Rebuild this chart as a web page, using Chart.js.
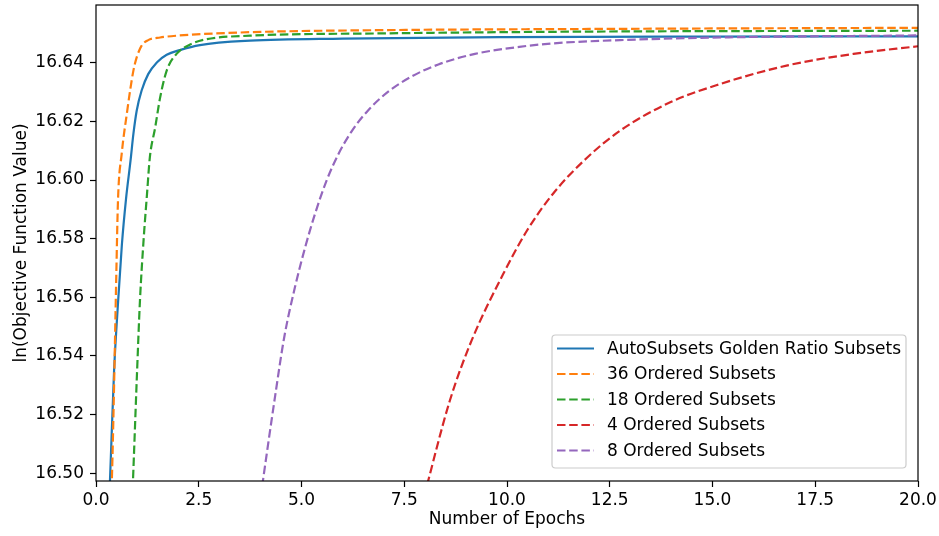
<!DOCTYPE html>
<html>
<head>
<meta charset="utf-8">
<script src="https://cdn.jsdelivr.net/npm/chart.js@4.4.0/dist/chart.umd.min.js"></script>
<style>
  html, body { margin: 0; padding: 0; background: #fff; }
  #chart { display: block; }
</style>
</head>
<body>
<canvas id="chart" width="939" height="536"></canvas>
<script>
// values
const seriesLabels = [
    'AutoSubsets Golden Ratio Subsets',
    '36 Ordered Subsets',
    '18 Ordered Subsets',
    '4 Ordered Subsets',
    '8 Ordered Subsets'
];

const autoX = [0.32, 0.36, 0.44, 0.54, 0.63, 0.73, 0.84, 0.91, 0.99, 1.11, 1.27, 1.48, 1.72, 2.04, 2.53, 3.75, 6, 10, 15, 20];
const autoY = [16.490, 16.505, 16.535, 16.559, 16.578, 16.5935, 16.6066, 16.6157, 16.6236, 16.6305, 16.6361, 16.6401, 16.6427, 16.6443, 16.6460, 16.6475, 16.6482, 16.6487, 16.6489, 16.6490];

const os36X = [0.37, 0.40, 0.44, 0.49, 0.535, 0.625, 0.76, 0.83, 0.91, 0.99, 1.11, 1.27, 1.56, 1.96, 3.75, 7, 12, 20];
const os36Y = [16.490, 16.505, 16.530, 16.565, 16.593, 16.6089, 16.6236, 16.6305, 16.6373, 16.6418, 16.6458, 16.6477, 16.6486, 16.6492, 16.6504, 16.6511, 16.6515, 16.6519];

const os18X = [0.88, 0.92, 1.0, 1.07, 1.16, 1.24, 1.31, 1.44, 1.56, 1.72, 1.96, 2.29, 2.69, 3.75, 7, 12, 20];
const os18Y = [16.490, 16.505, 16.535, 16.559, 16.580, 16.595, 16.6077, 16.6179, 16.6281, 16.6373, 16.6430, 16.6462, 16.6480, 16.6492, 16.6500, 16.6506, 16.6509];

const os4X = [7.98, 8.61, 9.14, 9.91, 10.48, 11.13, 11.94, 12.75, 13.97, 15.18, 16.8, 18.43, 20];
const os4Y = [16.492, 16.5248, 16.5453, 16.5680, 16.5826, 16.5955, 16.6075, 16.6168, 16.6265, 16.6327, 16.6390, 16.6430, 16.6456];

const os8X = [4.0, 4.36, 4.58, 4.84, 5.09, 5.33, 5.61, 5.90, 6.22, 6.63, 7.11, 7.68, 8.33, 9.22, 10.3, 11.13, 12.75, 15.2, 20];
const os8Y = [16.4915, 16.5265, 16.5464, 16.5634, 16.5771, 16.5885, 16.5998, 16.6089, 16.6166, 16.6239, 16.6301, 16.6353, 16.6394, 16.6430, 16.6454, 16.6466, 16.6477, 16.6486, 16.6493];

const xTicks = [0, 2.5, 5, 7.5, 10, 12.5, 15, 17.5, 20];
const yTicks = [16.50, 16.52, 16.54, 16.56, 16.58, 16.60, 16.62, 16.64];

const FONT = "'DejaVu Sans', sans-serif";

function pairs(xs, ys) {
    return xs.map((x, i) => ({ x: x, y: ys[i] }));
}

function series(i, xs, ys, color, dashed) {
    return {
        label: seriesLabels[i],
        data: pairs(xs, ys),
        borderColor: color,
        backgroundColor: color,
        borderWidth: 2.2,
        borderDash: dashed ? [8.5, 3.7] : [],
        pointRadius: 0,
        cubicInterpolationMode: 'monotone',
        clip: 0,
        order: 5 - i
    };
}

// axes box on top of the lines, like matplotlib spines
const framePlugin = {
    id: 'frame',
    afterDatasetsDraw(chart) {
        const a = chart.chartArea;
        const ctx = chart.ctx;
        ctx.save();
        ctx.strokeStyle = '#000';
        ctx.lineWidth = 1.2;
        ctx.strokeRect(a.left, a.top, a.right - a.left, a.bottom - a.top);
        ctx.restore();
    }
};

// legend drawn inside the plot, lower right
const insideLegend = {
    id: 'insideLegend',
    afterDraw(chart) {
        const a = chart.chartArea;
        const ctx = chart.ctx;
        const w = 354, h = 133;
        const left = a.right - 12 - w;
        const top = a.bottom - 13 - h;
        ctx.save();
        ctx.beginPath();
        ctx.roundRect(left, top, w, h, 3.5);
        ctx.fillStyle = 'rgba(255,255,255,0.8)';
        ctx.fill();
        ctx.strokeStyle = '#cccccc';
        ctx.lineWidth = 1.2;
        ctx.stroke();

        ctx.font = '17px ' + FONT;
        ctx.textBaseline = 'middle';
        chart.data.datasets.forEach((ds, i) => {
            const y = top + 13.5 + i * 25.5;
            ctx.beginPath();
            ctx.setLineDash(ds.borderDash);
            ctx.strokeStyle = ds.borderColor;
            ctx.lineWidth = ds.borderWidth;
            ctx.moveTo(left + 5, y);
            ctx.lineTo(left + 42, y);
            ctx.stroke();
            ctx.setLineDash([]);
            ctx.fillStyle = '#000';
            ctx.fillText(ds.label, left + 55, y + 1);
        });
        ctx.restore();
    }
};

function noEdgePadding(s) {
    s.paddingTop = 0;
    s.paddingBottom = 0;
    s.paddingLeft = 0;
    s.paddingRight = 0;
}

new Chart(document.getElementById('chart').getContext('2d'), {
    type: 'line',
    data: {
        datasets: [
            series(0, autoX, autoY, '#1f77b4', false),
            series(1, os36X, os36Y, '#ff7f0e', true),
            series(2, os18X, os18Y, '#2ca02c', true),
            series(3, os4X, os4Y, '#d62728', true),
            series(4, os8X, os8Y, '#9467bd', true)
        ]
    },
    options: {
        responsive: false,
        animation: false,
        layout: { padding: { left: 0, top: 5, right: 21, bottom: 0 } },
        plugins: {
            legend: { display: false },
            tooltip: { enabled: false }
        },
        scales: {
            x: {
                type: 'linear',
                min: 0,
                max: 20,
                afterFit: s => { s.height = 55; noEdgePadding(s); },
                afterBuildTicks: s => { s.ticks = xTicks.map(v => ({ value: v })); },
                border: { display: false },
                grid: { drawOnChartArea: false, drawTicks: true, tickLength: 6, tickWidth: 1.2, color: '#000' },
                ticks: {
                    padding: 3,
                    color: '#000',
                    maxRotation: 0,
                    autoSkip: false,
                    font: { family: FONT, size: 17 },
                    callback: v => Number(v).toFixed(1)
                },
                title: {
                    display: true,
                    text: 'Number of Epochs',
                    color: '#000',
                    font: { family: FONT, size: 17 },
                    padding: { top: 0, bottom: 6 }
                }
            },
            y: {
                type: 'linear',
                min: 16.49737,
                max: 16.65967,
                afterFit: s => { s.width = 96; noEdgePadding(s); },
                afterBuildTicks: s => { s.ticks = yTicks.map(v => ({ value: v })); },
                border: { display: false },
                grid: { drawOnChartArea: false, drawTicks: true, tickLength: 6, tickWidth: 1.2, color: '#000' },
                ticks: {
                    padding: 6,
                    color: '#000',
                    autoSkip: false,
                    font: { family: FONT, size: 17 },
                    callback: v => Number(v).toFixed(2)
                },
                title: {
                    display: true,
                    text: 'ln(Objective Function Value)',
                    color: '#000',
                    font: { family: FONT, size: 17 },
                    padding: { top: 11, bottom: 0 }
                }
            }
        }
    },
    plugins: [framePlugin, insideLegend]
});
</script>
</body>
</html>
